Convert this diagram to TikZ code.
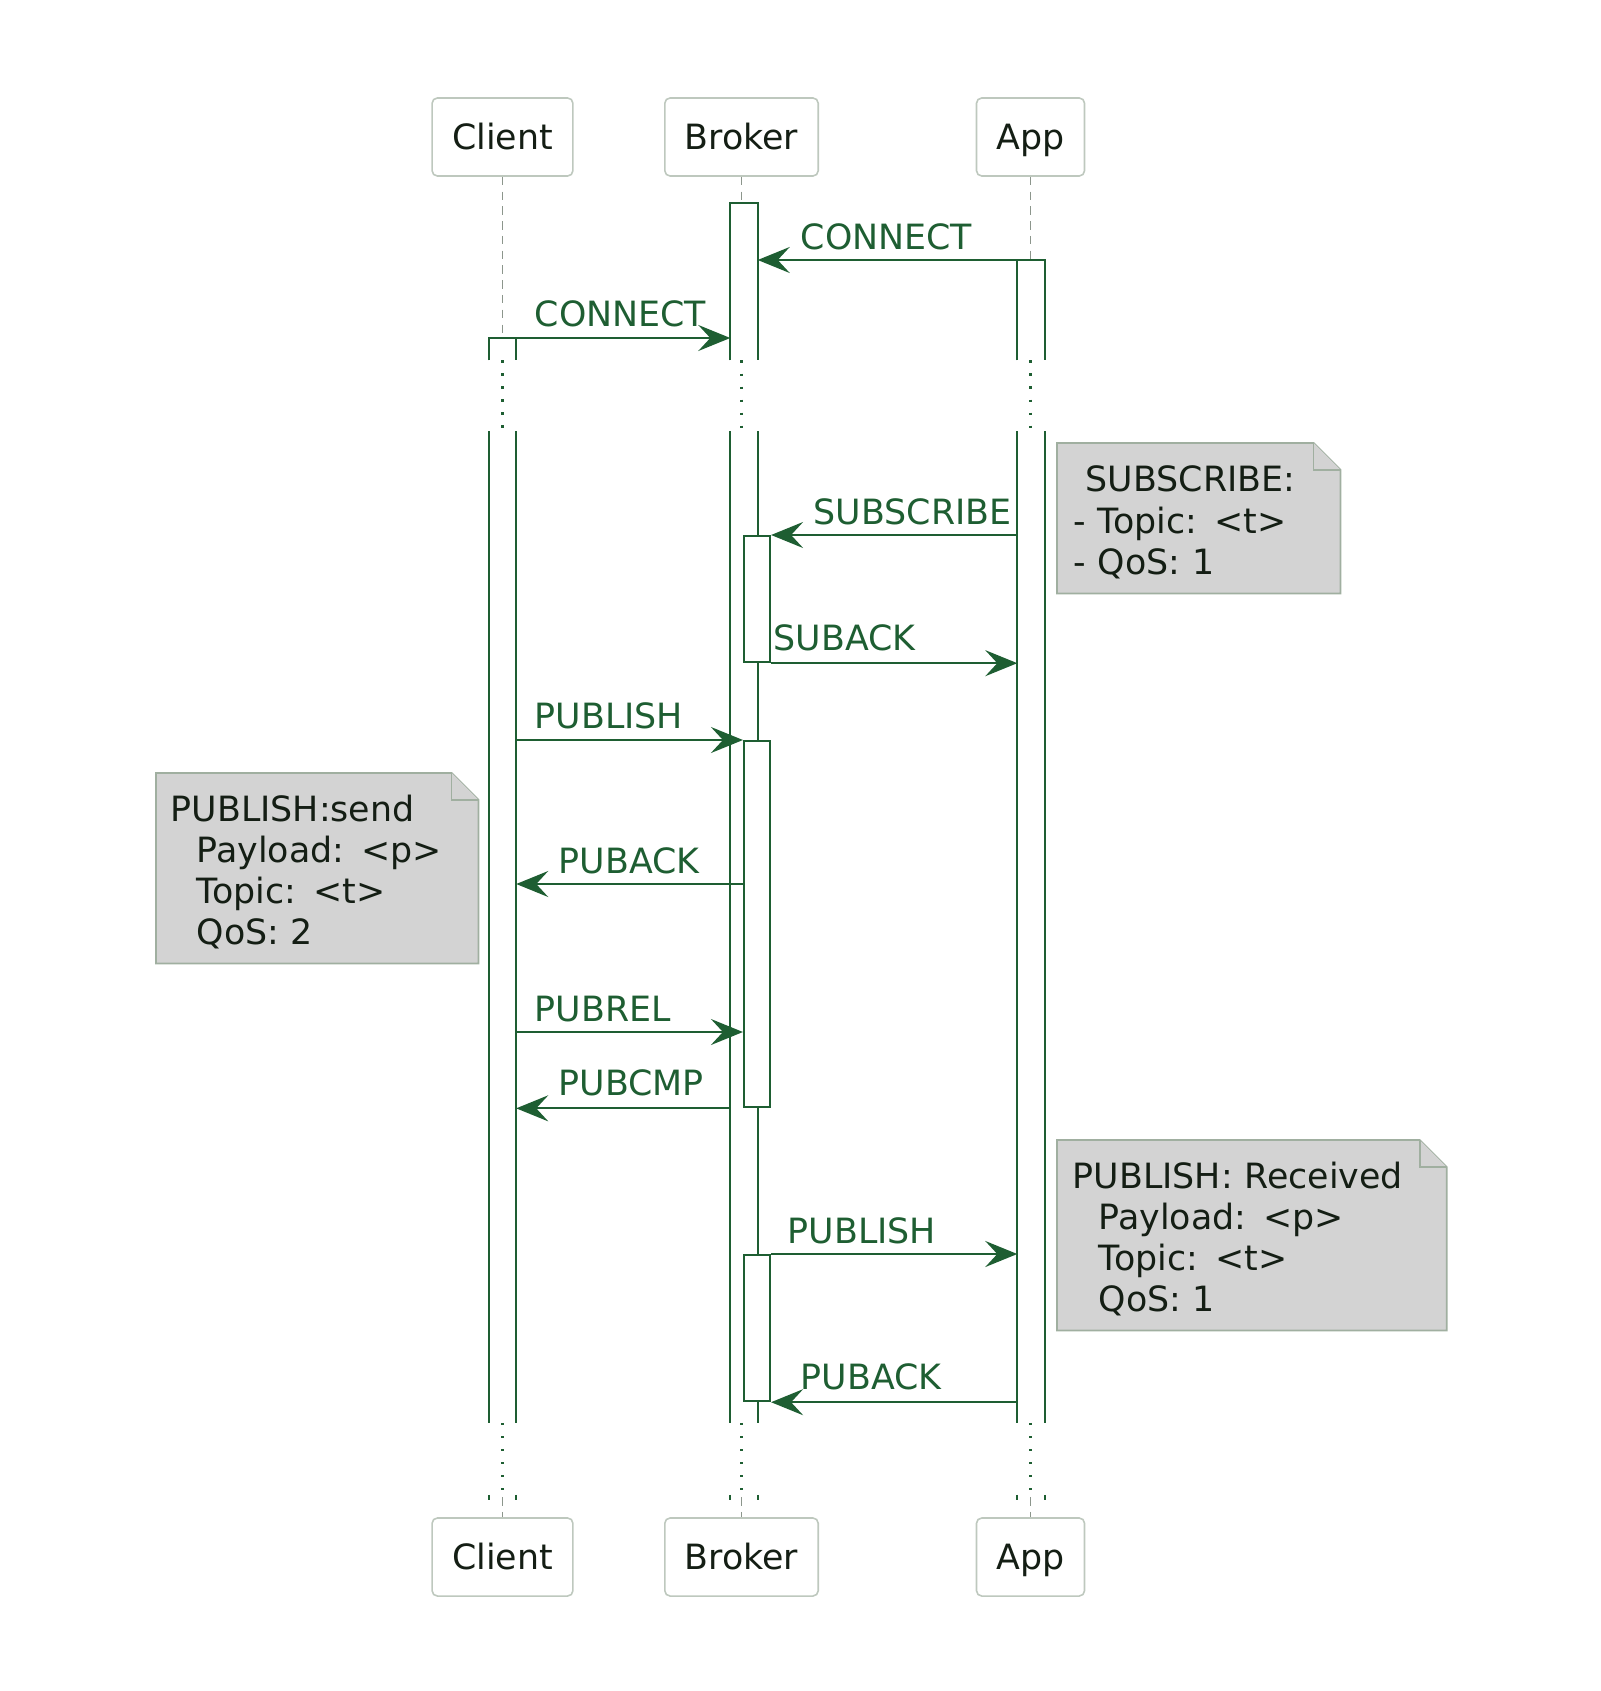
\documentclass[tikz,border=0pt]{standalone}
\usepackage{fontspec}
\setmainfont{DejaVu Sans}
\usetikzlibrary{arrows.meta, calc, backgrounds}

\definecolor{umlgreen}{RGB}{30,94,50}
\definecolor{ink}{RGB}{20,30,20}
\definecolor{boxgray}{RGB}{190,200,190}
\definecolor{dashgray}{RGB}{140,150,140}
\definecolor{notefill}{RGB}{211,211,211}
\definecolor{noteline}{RGB}{160,175,160}

\newcommand{\umlfont}{\fontsize{9.9}{11.7}\selectfont}

\tikzstyle{actor} = [rectangle, rounded corners=1.5pt, draw=boxgray, line width=0.45pt, fill=white, inner xsep=0.2cm, inner ysep=0pt, minimum height=0.78cm, text height=0.25cm, text depth=0pt, text=ink, font=\umlfont]
\tikzstyle{actbar} = [rectangle, minimum width=0.26cm, inner sep=0pt]
\tikzstyle{nestbar} = [actbar, draw=umlgreen, fill=white, line width=0.6pt]
\tikzstyle{barline} = [umlgreen, line width=0.6pt]
\tikzstyle{lifedash} = [dashgray, line width=0.45pt, dash pattern=on 2.4pt off 1.8pt]
\tikzstyle{lifedot} = [umlgreen, line width=0.6pt, dash pattern=on 0.6pt off 3.1pt]
\tikzstyle{msg} = [umlgreen, line width=0.6pt, -{Stealth[length=0.32cm, width=0.26cm, inset=0.12cm]}]
\tikzstyle{lbl} = [anchor=base west, inner sep=0pt, text=umlgreen, font=\umlfont]
\tikzstyle{note} = [rectangle, inner sep=0pt, anchor=north west, align=left, text=ink, font=\umlfont, execute at begin node={\rule{0pt}{0.34cm}}]
\tikzstyle{notebg} = [fill=notefill, draw=noteline, line width=0.5pt]

\begin{document}
\begin{tikzpicture}[x=0.01cm, y=-0.01cm]

        \useasboundingbox (0,0) rectangle (1600,1691);

        % Participants, top and bottom
        \node (cliTop) [actor] at (502.5,137) {Client};
        \node (brkTop) [actor] at (741.5,137) {Broker};
        \node (appTop) [actor] at (1030.5,137) {App};
        \node (cliBot) [actor] at (502.5,1557) {Client};
        \node (brkBot) [actor] at (741.5,1557) {Broker};
        \node (appBot) [actor] at (1030.5,1557) {App};

        % Activation bars before the break
        \node (cliAct1) [actbar, minimum height=0.21cm, anchor=north] at (502.5,338) {};
        \node (brkAct1) [actbar, minimum height=1.56cm, anchor=north] at (744,203) {};
        \node (appAct1) [actbar, minimum height=0.99cm, anchor=north] at (1031,260) {};

        % Activation bars after the break
        \node (cliAct2) [actbar, minimum height=9.9cm, anchor=north] at (502.5,431) {};
        \node (brkAct2) [actbar, minimum height=9.9cm, anchor=north] at (744,431) {};
        \node (appAct2) [actbar, minimum height=9.9cm, anchor=north] at (1031,431) {};

        % Lifelines down from the top boxes
        \draw [lifedash] (cliTop.south) -- (cliTop |- cliAct1.north);
        \draw [lifedash] (brkTop.south) -- (brkTop |- brkAct1.north);
        \draw [lifedash] (appTop.south) -- (appTop |- appAct1.north);

        % Bar outlines
        \draw [barline] (cliAct1.south west) -- (cliAct1.north west) -- (cliAct1.north east) -- (cliAct1.south east);
        \draw [barline] (brkAct1.south west) -- (brkAct1.north west) -- (brkAct1.north east) -- (brkAct1.south east);
        \draw [barline] (appAct1.south west) -- (appAct1.north west) -- (appAct1.north east) -- (appAct1.south east);
        \draw [barline] (cliAct2.north west) -- (cliAct2.south west) (cliAct2.north east) -- (cliAct2.south east);
        \draw [barline] (brkAct2.north west) -- (brkAct2.south west) (brkAct2.north east) -- (brkAct2.south east);
        \draw [barline] (appAct2.north west) -- (appAct2.south west) (appAct2.north east) -- (appAct2.south east);

        % The break
        \draw [lifedot] (cliTop |- cliAct1.south) -- (cliTop |- cliAct2.north);
        \draw [lifedot] (brkTop |- brkAct1.south) -- (brkTop |- brkAct2.north);
        \draw [lifedot] (appTop |- appAct1.south) -- (appTop |- appAct2.north);

        % Ends of the lifelines
        \draw [lifedot] (cliTop |- cliAct2.south) -- ($(cliBot.north)+(0,-22)$);
        \draw [lifedot] (brkTop |- brkAct2.south) -- ($(brkBot.north)+(0,-22)$);
        \draw [lifedot] (appTop |- appAct2.south) -- ($(appBot.north)+(0,-22)$);
        \draw [lifedash] ($(cliBot.north)+(0,-20)$) -- (cliBot.north);
        \draw [lifedash] ($(brkBot.north)+(0,-20)$) -- (brkBot.north);
        \draw [lifedash] ($(appBot.north)+(0,-20)$) -- (appBot.north);
        \draw [barline] ($(cliAct2.south west)+(0,72)$) -- +(0,5) ($(cliAct2.south east)+(0,72)$) -- +(0,5);
        \draw [barline] ($(brkAct2.south west)+(0,72)$) -- +(0,5) ($(brkAct2.south east)+(0,72)$) -- +(0,5);
        \draw [barline] ($(appAct2.south west)+(0,72)$) -- +(0,5) ($(appAct2.south east)+(0,72)$) -- +(0,5);

        % Nested activations on the broker
        \node (subAct) [nestbar, minimum height=1.26cm, anchor=north] at (757,535) {};
        \node (pubAct) [nestbar, minimum height=3.66cm, anchor=north] at (757,740) {};
        \node (rcvAct) [nestbar, minimum height=1.46cm, anchor=north] at (757,1254) {};

        % Message levels
        \coordinate (yConnA) at (0,260);
        \coordinate (yConnC) at (0,338);
        \coordinate (yPuback) at (0,884);
        \coordinate (yPubrel) at (0,1032);

        % Messages
        \draw [msg] (yConnA -| appAct1.west) -- (yConnA -| brkAct1.east);
        \draw [msg] (yConnC -| cliAct1.east) -- (yConnC -| brkAct1.west);
        \draw [msg] (subAct.north -| appAct2.west) -- (subAct.north east);
        \draw [msg] (subAct.south east) -- (subAct.south -| appAct2.west);
        \draw [msg] (pubAct.north -| cliAct2.east) -- (pubAct.north west);
        \draw [msg] (yPuback -| pubAct.west) -- (yPuback -| cliAct2.east);
        \draw [msg] (yPubrel -| cliAct2.east) -- (yPubrel -| pubAct.west);
        \draw [msg] (pubAct.south -| brkAct2.west) -- (pubAct.south -| cliAct2.east);
        \draw [msg] (rcvAct.north east) -- (rcvAct.north -| appAct2.west);
        \draw [msg] (rcvAct.south -| appAct2.west) -- (rcvAct.south east);

        % Message labels
        \node (lblConnA) [lbl] at (800,249) {CONNECT};
        \node (lblConnC) [lbl] at (534,327) {CONNECT};
        \node (lblSub) [lbl] at (813,524) {SUBSCRIBE};
        \node (lblSuback) [lbl] at (773,650) {SUBACK};
        \node (lblPub) [lbl] at (534,728) {PUBLISH};
        \node (lblPuback) [lbl] at (558,873) {PUBACK};
        \node (lblPubrel) [lbl] at (534,1021) {PUBREL};
        \node (lblPubcmp) [lbl] at (558,1095) {PUBCMP};
        \node (lblPub2) [lbl] at (787,1243) {PUBLISH};
        \node (lblPuback2) [lbl] at (800,1389) {PUBACK};

        % Notes
        \node (subNote) [note, minimum width=2.82cm, minimum height=1.49cm, text width=2.5cm] at (1057,443)
            {\hspace*{0.12cm}SUBSCRIBE:\\- Topic: <t>\\- QoS: 1};
        \node (sendNote) [note, minimum width=3.21cm, minimum height=1.89cm, text width=2.93cm] at (156,773)
            {PUBLISH:send\\\hspace*{0.26cm}Payload: <p>\\\hspace*{0.26cm}Topic: <t>\\\hspace*{0.26cm}QoS: 2};
        \node (rcvNote) [note, minimum width=3.88cm, minimum height=1.89cm, text width=3.58cm] at (1057,1140)
            {PUBLISH: Received\\\hspace*{0.26cm}Payload: <p>\\\hspace*{0.26cm}Topic: <t>\\\hspace*{0.26cm}QoS: 1};

        \begin{scope}[on background layer]
            \draw [notebg] (subNote.north west) -- ($(subNote.north east)+(-27,0)$) -- ($(subNote.north east)+(0,27)$) -- (subNote.south east) -- (subNote.south west) -- cycle;
            \draw [notebg] ($(subNote.north east)+(-27,0)$) -- ($(subNote.north east)+(-27,27)$) -- ($(subNote.north east)+(0,27)$);
            \draw [notebg] (sendNote.north west) -- ($(sendNote.north east)+(-27,0)$) -- ($(sendNote.north east)+(0,27)$) -- (sendNote.south east) -- (sendNote.south west) -- cycle;
            \draw [notebg] ($(sendNote.north east)+(-27,0)$) -- ($(sendNote.north east)+(-27,27)$) -- ($(sendNote.north east)+(0,27)$);
            \draw [notebg] (rcvNote.north west) -- ($(rcvNote.north east)+(-27,0)$) -- ($(rcvNote.north east)+(0,27)$) -- (rcvNote.south east) -- (rcvNote.south west) -- cycle;
            \draw [notebg] ($(rcvNote.north east)+(-27,0)$) -- ($(rcvNote.north east)+(-27,27)$) -- ($(rcvNote.north east)+(0,27)$);
        \end{scope}

    \end{tikzpicture}
\end{document}
